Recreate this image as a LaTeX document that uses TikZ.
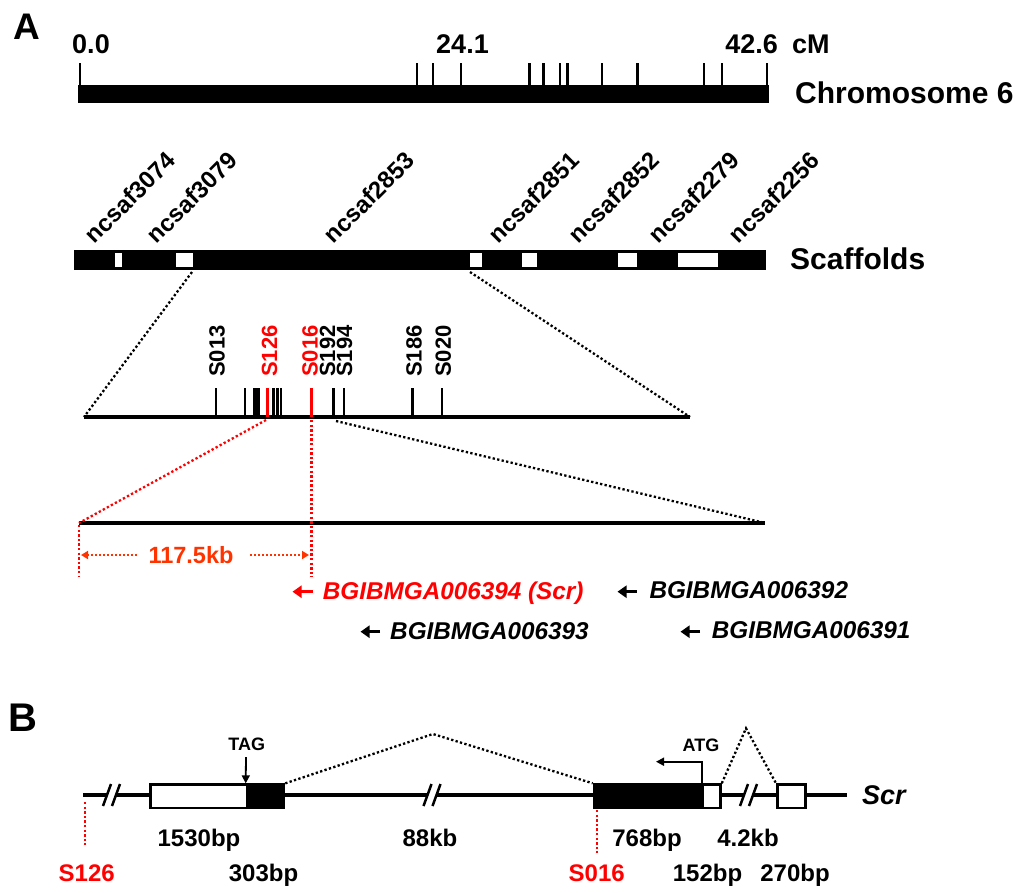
\documentclass[tikz,border=0pt]{standalone}
\usepackage{fontspec}
\setmainfont{Liberation Sans}
\usetikzlibrary{arrows.meta}
\definecolor{myred}{RGB}{255,0,0}
\definecolor{kbred}{RGB}{255,51,0}
\newcommand{\fsz}[1]{\fontsize{#1}{#1}\selectfont\bfseries}
\begin{document}
\begin{tikzpicture}[x=1pt,y=-1pt,
  lbl/.style={inner sep=0pt, font=\fsz{24}},
  clbl/.style={inner sep=0pt, font=\fsz{27}},
  big/.style={inner sep=0pt, font=\fsz{30}},
  panel/.style={inner sep=0pt, font=\fsz{#1}},
  rlab/.style={inner sep=0pt, font=\fsz{24}, rotate=45, anchor=south west},
  mlab/.style={inner sep=0pt, font=\fsz{22}, rotate=90, anchor=west},
  gene/.style={inner sep=0pt, font=\fsz{24.3}\itshape, anchor=base west},
  tick/.style={line width=2.4pt},
  dotl/.style={line width=2.3pt, dash pattern=on 2.3pt off 2.3pt},
  garrow/.style={-{Triangle[length=9pt,width=12pt]}, line width=3.4pt},
  kbarrow/.style={-{Triangle[length=7pt,width=8pt]}, line width=2pt, dash pattern=on 2pt off 2pt, kbred},
  bline/.style={line width=4pt},
  exonw/.style={draw, line width=2.5pt, fill=white},
  exonb/.style={draw, line width=2.5pt, fill=black},
  brk/.style={line width=2.5pt},
  small/.style={inner sep=0pt, font=\fsz{18}}
]
\useasboundingbox (0,0) rectangle (1024,892);

% ---------------- Panel A ----------------
\node[panel=37] (lA) at (27,27) {A};

% chromosome
\fill (78,85) rectangle (769,103);
\foreach \x in {80,416.7,432.7,461,529.3,543.3,560,567.3,601.7,637.3,704,721.7,767}
  \draw[tick] (\x,63) -- (\x,86);
\node[clbl, anchor=base] (c0) at (91,53) {0.0};
\node[clbl, anchor=base] (c24) at (462.5,53) {24.1};
\node[clbl, anchor=base east] (c42) at (778,53) {42.6};
\node[clbl, anchor=base west] (cM) at (792,53) {cM};
\node[big, anchor=base west] (chr6) at (795,103) {Chromosome 6};

% scaffolds
\fill (74,250) rectangle (766,270);
\foreach \a/\b in {115/121.7,176/192.7,470/481.7,521.7/537.3,617.7/636.7,678.3/718.3}
  \fill[white] (\a,253) rectangle (\b,267);
\node[big, anchor=base west] (scaf) at (790,269) {Scaffolds};
\foreach \x/\t in {95/ncsaf3074,157/ncsaf3079,334/ncsaf2853,499/ncsaf2851,579/ncsaf2852,659/ncsaf2279,739/ncsaf2256}
  \node[rlab] (s\t) at (\x,245) {\t};

% markers line
\coordinate (mL) at (84,417);
\coordinate (mR) at (690,417);
\draw[bline] (mL) -- (mR);
\foreach \x in {215.7,245,254.3,256.7,259,273.3,277.3,281,333.3,344,412.3,441.7}
  \draw[tick] (\x,388) -- (\x,417);
\draw[line width=3.2pt, myred] (267.6,388) -- (267.6,417);
\draw[tick, myred] (311.5,388) -- (311.5,417);
\node[mlab] (S013) at (217,377) {S013};
\node[mlab, text=myred] (S126) at (269.5,377) {S126};
\node[mlab, text=myred] (S016) at (310,377) {S016};
\node[mlab] (S192) at (327.5,377) {S192};
\node[mlab] (S194) at (344.5,377) {S194};
\node[mlab] (S186) at (414,377) {S186};
\node[mlab] (S020) at (443.3,377) {S020};

% zoom lines from scaffolds
\coordinate (zL) at (192,272);
\coordinate (zR) at (470,272);
\draw[dotl] (zL) -- (mL);
\draw[dotl] (zR) -- (mR);

% bottom line
\coordinate (bL) at (79,523);
\coordinate (bR) at (765,523);
\draw[bline] (bL) -- (bR);
\coordinate (r126) at (266,420);
\coordinate (r016) at (311.5,420);
\coordinate (k016) at (336,421);
\draw[dotl, myred] (r126) -- (bL);
\draw[dotl, myred] (r016) -- (311.5,577);
\draw[dotl] (k016) -- (bR);
\draw[dotl, myred] (79,525) -- (79,577);

% 117.5kb
\node[inner sep=0pt, font=\fsz{23.5}, text=kbred] (kb) at (191,555) {117.5kb};
\draw[kbarrow] (137,555) -- (81,555);
\draw[kbarrow] (250,555) -- (309,555);

% genes
\draw[garrow, myred] (312.7,591.7) -- (292.5,591.7);
\node[gene, text=myred] (g394) at (322.7,599.3) {BGIBMGA006394 (Scr)};
\draw[garrow] (380,631.7) -- (360.5,631.7);
\node[gene] (g393) at (390,639.3) {BGIBMGA006393};
\draw[garrow] (636.7,591.7) -- (617.5,591.7);
\node[gene] (g392) at (649.3,598.8) {BGIBMGA006392};
\draw[garrow] (700,631.7) -- (680.5,631.7);
\node[gene] (g391) at (711.7,638.8) {BGIBMGA006391};

% ---------------- Panel B ----------------
\node[panel=40] (lB) at (23,718) {B};

% main line segments
\draw[bline] (83,795) -- (107,795);
\draw[bline] (116,795) -- (149,795);
\draw[bline] (282.7,795) -- (427.5,795);
\draw[bline] (436.5,795) -- (592.7,795);
\draw[bline] (719.3,795) -- (744,795);
\draw[bline] (753,795) -- (776,795);
\draw[bline] (804.3,795) -- (846.7,795);
% breaks
\foreach \c in {111.5,432,748.5}{
  \draw[brk] (\c-8.5,806) -- (\c-0.5,784);
  \draw[brk] (\c+0.5,806) -- (\c+8.5,784);
}
% exons
\node[exonw, minimum width=96.7, minimum height=23.4, inner sep=0, anchor=north west] (e1) at (149,783.3) {};
\node[exonb, minimum width=37, minimum height=23.4, inner sep=0, anchor=north west] (e2) at (245.7,783.3) {};
\node[exonb, minimum width=109, minimum height=23.4, inner sep=0, anchor=north west] (e3) at (592.7,783.3) {};
\node[exonw, minimum width=17.6, minimum height=23.4, inner sep=0, anchor=north west] (e4) at (701.7,783.3) {};
\node[exonw, minimum width=28.3, minimum height=23.4, inner sep=0, anchor=north west] (e5) at (776,783.3) {};

% introns
\coordinate (ap1) at (433,734);
\coordinate (ap2) at (746,728.3);
\draw[dotl] (e2.north east) -- (ap1) -- (e3.north west);
\draw[dotl] (e4.north east) -- (ap2) -- (e5.north west);

% TAG / ATG
\node[small, anchor=base] (tag) at (246.7,750.7) {TAG};
\draw[-{Triangle[length=8pt,width=8pt]}, line width=1.8pt] (246,757) -- (e2.north west);
\node[small, anchor=base] (atg) at (701,751.7) {ATG};
\draw[-{Triangle[length=8pt,width=8pt]}, line width=1.8pt] (e4.north west) -- (701.7,761.7) -- (656,761.7);

\node[inner sep=0pt, font=\fsz{27}\itshape, anchor=west] (scr) at (862,795) {Scr};

% sizes
\node[lbl, anchor=base] (l1530) at (199,846.7) {1530bp};
\node[lbl, anchor=base] (l303) at (263.5,881.7) {303bp};
\node[lbl, anchor=base] (l88) at (430,846.7) {88kb};
\node[lbl, anchor=base] (l768) at (647,846.7) {768bp};
\node[lbl, anchor=base] (l42) at (748,846.7) {4.2kb};
\node[lbl, anchor=base] (l152) at (707.5,881.7) {152bp};
\node[lbl, anchor=base] (l270) at (795,881.7) {270bp};
\node[lbl, anchor=base, text=myred] (b126) at (86.7,881.7) {S126};
\node[lbl, anchor=base, text=myred] (b016) at (596.7,881.7) {S016};
\draw[dotl, myred] (85,802) -- (85,845);
\draw[dotl, myred] (596.7,810) -- (596.7,853);
\end{tikzpicture}
\end{document}
